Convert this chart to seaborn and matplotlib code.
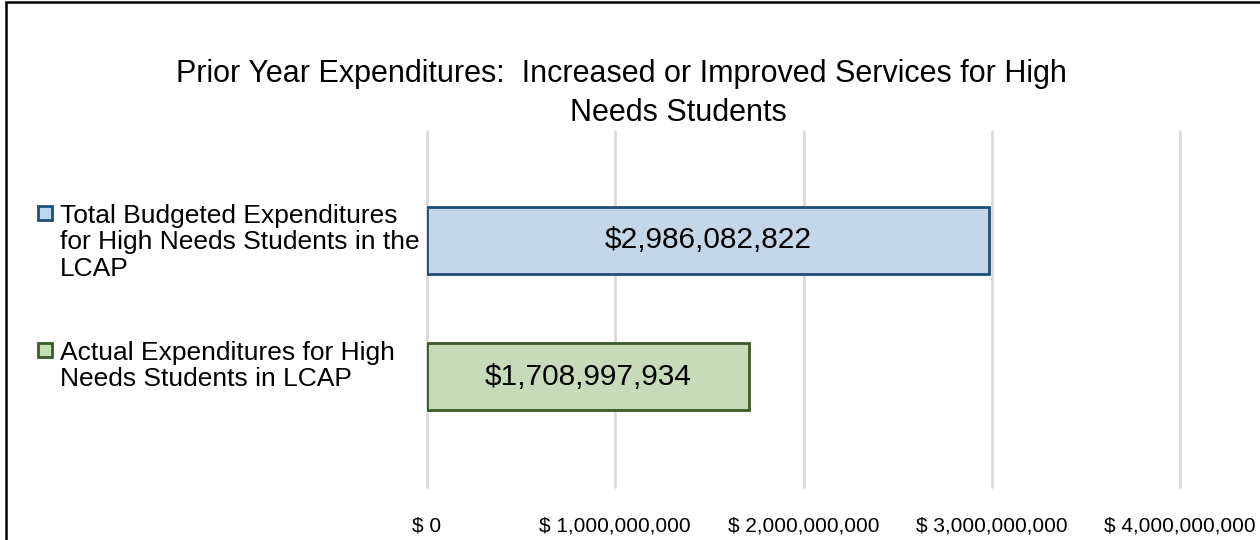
import matplotlib
matplotlib.use("Agg")
import matplotlib.pyplot as plt
import matplotlib.transforms as mtransforms
from matplotlib.patches import Rectangle
import seaborn as sns
import pandas as pd

# ---- data ----
categories = [
    "Total Budgeted Expenditures\nfor High Needs Students in the\nLCAP",
    "Actual Expenditures for High\nNeeds Students in LCAP",
]
values = [2986082822, 1708997934]
value_labels = ["$2,986,082,822", "$1,708,997,934"]
tick_values = [0, 1e9, 2e9, 3e9, 4e9]
tick_labels = ["$ 0", "$ 1,000,000,000", "$ 2,000,000,000", "$ 3,000,000,000", "$ 4,000,000,000"]
title_lines = ["Prior Year Expenditures:  Increased or Improved Services for High", "Needs Students"]

fill_colors = ["#BDD7EE", "#C5E0B4"]
edge_colors = ["#1F4E79", "#3B5A26"]

sns.set_theme(style="white")
plt.rcParams["font.family"] = ["Liberation Sans", "DejaVu Sans"]

df = pd.DataFrame({"category": categories, "value": values})

W, H, DPI = 1260, 540, 100
fig = plt.figure(figsize=(W / DPI, H / DPI), dpi=DPI)
ax = fig.add_axes([427 / W, 1 - 487 / H, (1180 - 427) / W, (487 - 131) / H])

sns.barplot(data=df, y="category", x="value", hue="category", palette=fill_colors,
            orient="h", width=0.49, legend=False, ax=ax, zorder=3)
for patch, ec in zip(ax.patches, edge_colors):
    patch.set_edgecolor(ec)
    patch.set_linewidth(2.0)

ax.set_xlim(0, 4e9)
ax.set_ylim(1.806, -0.80)
ax.set_xticks(tick_values)
ax.set_xticklabels(tick_labels, fontsize=15, color="black")
ax.tick_params(axis="x", length=0, pad=21)
ax.set_yticks([])
ax.set_xlabel("")
ax.set_ylabel("")
for s in ax.spines.values():
    s.set_visible(False)
ax.grid(axis="x", color="#D9D9D9", linewidth=1.9, zorder=0)
for gl in ax.get_xgridlines():
    gl.set_clip_on(False)
ax.set_axisbelow(True)

# value labels centered in bars
for i, (v, lab) in enumerate(zip(values, value_labels)):
    ax.text(v / 2, i, lab, ha="center", va="center", fontsize=21.5, color="black", zorder=4)

# category labels with legend-like markers
blend = mtransforms.blended_transform_factory(fig.transFigure, ax.transData)
for i, (cat, fc, ec) in enumerate(zip(categories, fill_colors, edge_colors)):
    fig.text(60 / W, i - 0.265, cat, transform=blend, ha="left", va="top", fontsize=19,
             linespacing=1.12, color="black")
    ax.plot([45 / W], [i - 0.20], marker="s", markersize=10, markerfacecolor=fc,
            markeredgecolor=ec, markeredgewidth=2, transform=blend, clip_on=False,
            linestyle="none")

# title
fig.text(621 / W, 1 - 74 / H, title_lines[0], ha="center", va="center", fontsize=22, color="black")
fig.text(678 / W, 1 - 113 / H, title_lines[1], ha="center", va="center", fontsize=22, color="black")

# outer border
fig.patches.append(Rectangle((6 / W, -0.1), 1.2, 1 - 2 / H + 0.1, transform=fig.transFigure,
                             fill=False, edgecolor="black", linewidth=1.8, clip_on=False))

fig.savefig("out.png", dpi=DPI)
